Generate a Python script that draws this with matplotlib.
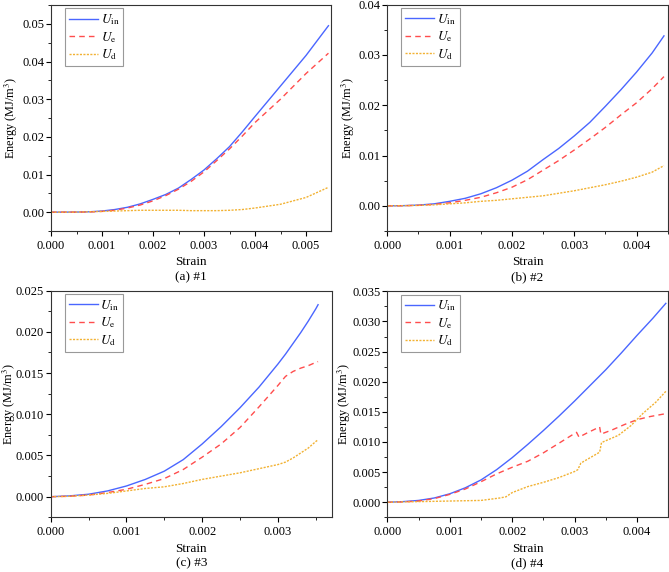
import numpy as np
import matplotlib
matplotlib.use('Agg')
from matplotlib import pyplot as plt
from matplotlib.ticker import MultipleLocator, FormatStrFormatter

plt.rcParams['font.family'] = 'Liberation Serif'
plt.rcParams['mathtext.fontset'] = 'stix'
plt.rcParams['font.size'] = 9

# (a) #1
a_strain = [0, 0.0005, 0.00075, 0.001, 0.00125, 0.0015, 0.00175, 0.002, 0.00225, 0.0025,
            0.00275, 0.003, 0.00325, 0.0035, 0.00375, 0.004, 0.0045, 0.005, 0.00544]
a_uin = [0, 0.00003, 0.0001, 0.0003, 0.0007, 0.0013, 0.0022, 0.0034, 0.0047, 0.0064,
         0.0087, 0.0112, 0.0142, 0.0174, 0.0213, 0.0254, 0.0335, 0.0416, 0.0495]
a_ue = [0, 0.00001, 0.00005, 0.0002, 0.0005, 0.0011, 0.0019, 0.0030, 0.0044, 0.0061,
        0.0082, 0.0107, 0.0137, 0.0168, 0.0202, 0.0238, 0.0300, 0.0368, 0.0422]
a_ud = [0, 0.00002, 0.0001, 0.0002, 0.0003, 0.0004, 0.0005, 0.0005, 0.0005, 0.0005,
        0.0004, 0.0004, 0.0004, 0.0005, 0.0007, 0.0011, 0.0021, 0.0039, 0.0066]

# (b) #2
b_strain = [0, 0.00025, 0.0005, 0.00075, 0.001, 0.00125, 0.0015, 0.00175, 0.002, 0.00225,
            0.0025, 0.00275, 0.003, 0.00325, 0.0035, 0.00375, 0.004, 0.00425, 0.00444]
b_uin = [0, 0.00004, 0.00015, 0.0004, 0.0009, 0.0015, 0.0024, 0.0036, 0.0051, 0.0069,
         0.0092, 0.0114, 0.0139, 0.0166, 0.0198, 0.0231, 0.0266, 0.0304, 0.0338]
b_ue = [0, 0.00002, 0.0001, 0.0003, 0.0006, 0.0011, 0.0017, 0.0026, 0.0037, 0.0052,
        0.0071, 0.0090, 0.0111, 0.0133, 0.0156, 0.0181, 0.0205, 0.0233, 0.0257]
b_ud = [0, 0.00002, 0.0001, 0.0002, 0.0004, 0.0006, 0.0009, 0.0011, 0.0014, 0.0017,
        0.0020, 0.0025, 0.0030, 0.0036, 0.0042, 0.0049, 0.0057, 0.0067, 0.0080]

# (c) #3
c_strain = [0, 0.00025, 0.0005, 0.00075, 0.001, 0.00125, 0.0015, 0.00175, 0.002, 0.00225,
            0.0025, 0.00275, 0.003, 0.0031, 0.0032, 0.0033, 0.0034, 0.0035, 0.00353]
c_uin = [0, 0.0001, 0.0003, 0.0007, 0.0013, 0.0021, 0.0031, 0.0045, 0.0064, 0.0085,
         0.0108, 0.0133, 0.0161, 0.0173, 0.0186, 0.0199, 0.0213, 0.0228, 0.0233]
c_ue = [0, 0.00005, 0.0002, 0.0005, 0.0009, 0.0015, 0.0022, 0.0033, 0.0048, 0.0064,
        0.0084, 0.0109, 0.0135, 0.0146, 0.0152, 0.0156, 0.0159, 0.0163, 0.0164]
c_ud = [0, 0.00005, 0.0002, 0.0004, 0.0007, 0.0010, 0.0012, 0.0016, 0.0021, 0.0025,
        0.0029, 0.0034, 0.0039, 0.0042, 0.0047, 0.0053, 0.0059, 0.0067, 0.0069]

# (d) #4
d_strain_in = [0, 0.00025, 0.0005, 0.00075, 0.001, 0.00125, 0.0015, 0.00175, 0.002, 0.00225,
               0.0025, 0.00275, 0.003, 0.00325, 0.0035, 0.00375, 0.004, 0.00425, 0.00446]
d_uin = [0, 0.0001, 0.0003, 0.0007, 0.0014, 0.0024, 0.0037, 0.0054, 0.0074, 0.0096,
         0.0119, 0.0143, 0.0168, 0.0194, 0.0220, 0.0248, 0.0277, 0.0305, 0.0330]
d_strain_e = [0, 0.00025, 0.0005, 0.00075, 0.001, 0.00125, 0.0015, 0.00175, 0.002, 0.00225,
              0.0025, 0.00275, 0.00295, 0.00303, 0.00307, 0.0032, 0.0034, 0.00342, 0.0036,
              0.0038, 0.004, 0.0042, 0.00446]
d_ue = [0, 0.00005, 0.0002, 0.0006, 0.0013, 0.0022, 0.0034, 0.0047, 0.0058, 0.0068,
        0.0082, 0.0098, 0.0111, 0.0116, 0.0108, 0.0115, 0.0125, 0.0113, 0.0120,
        0.0129, 0.0137, 0.0142, 0.0147]
d_strain_d = [0, 0.0005, 0.001, 0.0015, 0.0018, 0.0019, 0.002, 0.00225, 0.0025, 0.00275,
              0.003, 0.00305, 0.0031, 0.00325, 0.0034, 0.00343, 0.0037, 0.0039, 0.0041,
              0.0043, 0.00446]
d_ud = [0, 0.0001, 0.0002, 0.0003, 0.0007, 0.0009, 0.0016, 0.0026, 0.0033, 0.0041,
        0.0051, 0.0054, 0.0065, 0.0074, 0.0083, 0.0099, 0.0111, 0.0127, 0.0148,
        0.0166, 0.0184]

c_in = '#4a66ff'
c_e = '#ff4d4d'
c_d = '#f2b233'

fig = plt.figure(figsize=(6.69, 5.72), dpi=100)
W, H = 669.0, 572.0

def box(l, r, t, b):
    return [l / W, 1 - b / H, (r - l) / W, (b - t) / H]

panels = [
    (box(51, 331, 5, 231), (a_strain, a_uin), (a_strain, a_ue), (a_strain, a_ud),
     (0, 0.00549), (-0.005, 0.055), 0.01, '%.2f', '(a) #1', -0.111),
    (box(387.3, 667.7, 4.7, 231), (b_strain, b_uin), (b_strain, b_ue), (b_strain, b_ud),
     (0, 0.0045), (-0.005, 0.04), 0.01, '%.2f', '(b) #2', -0.108),
    (box(50.7, 331.7, 290.7, 517.3), (c_strain, c_uin), (c_strain, c_ue), (c_strain, c_ud),
     (0, 0.00371), (-0.0025, 0.025), 0.005, '%.3f', '(c) #3', -0.118),
    (box(387.3, 667.7, 291.3, 517.3), (d_strain_in, d_uin), (d_strain_e, d_ue), (d_strain_d, d_ud),
     (0, 0.00449), (-0.0025, 0.035), 0.005, '%.3f', '(d) #4', -0.124),
]

for rect, pin, pe, pd, xl, yl, ystep, yfmt, cap, ylx in panels:
    ax = fig.add_axes(rect)
    ax.plot(pin[0], pin[1], color=c_in, lw=1.0, label=r'$U_\mathrm{in}$')
    ax.plot(pe[0], pe[1], color=c_e, lw=1.0, ls=(0, (4, 3)), label=r'$U_\mathrm{e}$')
    ax.plot(pd[0], pd[1], color=c_d, lw=1.0, ls=(0, (1.5, 1)), label=r'$U_\mathrm{d}$')
    ax.set_xlim(xl)
    ax.set_ylim(yl)
    ax.xaxis.set_major_locator(MultipleLocator(0.001))
    ax.xaxis.set_minor_locator(MultipleLocator(0.0005))
    ax.xaxis.set_major_formatter(FormatStrFormatter('%.3f'))
    ax.yaxis.set_major_locator(MultipleLocator(ystep))
    ax.yaxis.set_minor_locator(MultipleLocator(ystep / 2))
    ax.yaxis.set_major_formatter(FormatStrFormatter(yfmt))
    ax.tick_params(which='both', direction='out', top=False, right=False, labelsize=9)
    ax.tick_params(axis='x', which='major', length=3.5, width=0.8, pad=3)
    ax.tick_params(axis='y', which='major', length=3.5, width=0.8, pad=1.5)
    ax.tick_params(which='minor', length=2, width=0.6)
    for s in ax.spines.values():
        s.set_linewidth(0.8)
        s.set_color('#333333')
    ax.set_xlabel('Strain', fontsize=9.5)
    ax.xaxis.set_label_coords(0.5, -0.112)
    ax.set_ylabel('Energy (MJ/m$^3$)', fontsize=8.8)
    ax.yaxis.set_label_coords(ylx, 0.5)
    ax.text(0.5, -0.203, cap, transform=ax.transAxes, ha='center', va='center', fontsize=9.5)
    leg = ax.legend(loc='upper left', fontsize=9.5, handlelength=2.2, labelspacing=0.2,
                    borderpad=0.3, handletextpad=0.2, borderaxespad=0, fancybox=False,
                    framealpha=1, bbox_to_anchor=(0.05, 0.985))
    leg.get_frame().set_edgecolor('#999999')
    leg.get_frame().set_linewidth(0.8)

fig.savefig('out.png', dpi=100)
